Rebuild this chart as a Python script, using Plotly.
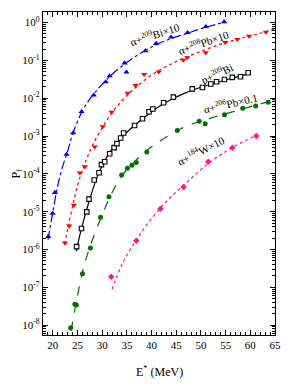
import plotly.graph_objects as go

# ---------------- data ----------------
# alpha + 209Bi x10 (blue up-triangles)
bi_x = [19.07, 19.96, 20.42, 22.78, 24.11, 25.8, 28.28, 30.7, 31.5, 34.53, 34.9, 38.77, 40.92, 43.95, 47.3, 51.0, 54.7]
bi_y = [2.2e-6, 9e-6, 3.2e-5, 3.3e-4, 1.22e-3, 4.4e-3, 1.2e-2, 2.7e-2, 3.9e-2, 8.5e-2, 4.9e-2, 0.18, 0.28, 0.41, 0.54, 0.78, 1.05]
bi_fx = [19.0, 20.0, 21.0, 22.0, 23.0, 24.0, 26.0, 28.0, 30.0, 32.0, 35.0, 38.0, 41.0, 44.0, 47.0, 50.0, 53.0, 55.0]
bi_fy = [1.8e-6, 1.0e-5, 5.0e-5, 1.6e-4, 4.0e-4, 1.12e-3, 4.7e-3, 1.17e-2, 2.34e-2, 4.3e-2, 8.9e-2, 0.162, 0.263, 0.38, 0.51, 0.69, 0.89, 1.05]

# alpha + 208Pb x10 (red down-triangles)
pb8_x = [22.44, 23.3, 24.25, 25.46, 26.47, 28.48, 30.1, 31.91, 35.14, 36.75, 38.5, 41.45, 46.43, 47.23, 50.96, 54.9, 57.37, 59.73, 63.16]
pb8_y = [1.5e-6, 4.2e-6, 1.5e-5, 1.07e-4, 1.55e-4, 5.2e-4, 1.78e-3, 4.3e-3, 1.37e-2, 2.2e-2, 4.3e-2, 5.0e-2, 0.102, 0.119, 0.16, 0.30, 0.36, 0.44, 0.56]
pb8_fx = [22.4, 23.0, 24.0, 25.0, 26.0, 27.0, 28.0, 30.0, 32.0, 34.0, 36.0, 38.0, 40.0, 43.0, 46.0, 50.0, 54.0, 58.0, 62.0, 65.0]
pb8_fy = [1.4e-6, 3.5e-6, 1.4e-5, 5.0e-5, 1.26e-4, 2.8e-4, 5.6e-4, 1.66e-3, 4.2e-3, 8.7e-3, 1.58e-2, 2.6e-2, 4.1e-2, 6.9e-2, 0.107, 0.174, 0.27, 0.38, 0.52, 0.69]

# p + 209Bi (black open squares)
pbi_x = [24.81, 25.8, 26.87, 27.32, 28.37, 29.35, 29.84, 30.5, 31.51, 32.41, 32.98, 33.73, 34.33, 36.55, 38.16, 39.47, 40.24, 42.44, 44.41, 48.23, 50.3, 51.99, 53.16, 54.76, 56.35, 58.0, 59.56]
pbi_y = [1.19e-6, 3.6e-6, 9.9e-6, 2.15e-5, 6.9e-5, 1.07e-4, 1.76e-4, 2.1e-4, 3.4e-4, 4.95e-4, 6.3e-4, 8.9e-4, 1.2e-3, 1.9e-3, 2.86e-3, 4.4e-3, 5.2e-3, 7.6e-3, 1.07e-2, 1.77e-2, 1.92e-2, 2.37e-2, 2.73e-2, 3.12e-2, 3.56e-2, 3.7e-2, 4.7e-2]
pbi_fx = [24.75, 25.5, 26.5, 27.5, 28.5, 29.5, 30.5, 31.5, 32.5, 33.5, 34.5, 36.0, 38.0, 40.0, 42.0, 44.0, 47.0, 50.0, 53.0, 56.0, 59.6]
pbi_fy = [8.9e-7, 2.5e-6, 7.9e-6, 2.2e-5, 5.6e-5, 1.2e-4, 2.24e-4, 3.7e-4, 5.6e-4, 7.9e-4, 1.1e-3, 1.66e-3, 2.75e-3, 4.4e-3, 6.6e-3, 9.3e-3, 1.41e-2, 1.95e-2, 2.57e-2, 3.3e-2, 4.4e-2]

# alpha + 206Pb x0.1 (green filled circles)
pb6_x = [23.6, 24.45, 24.75, 26.0, 27.61, 29.66, 31.36, 33.93, 35.1, 36.01, 36.9, 39.03, 45.2, 49.64, 50.85, 54.77, 58.46, 61.08, 63.63]
pb6_y = [8.6e-9, 3.6e-8, 3.4e-8, 2.3e-7, 1.09e-6, 7.1e-6, 2.5e-5, 9.3e-5, 1.4e-4, 1.7e-4, 2.0e-4, 3.8e-4, 1.4e-3, 2.46e-3, 2.1e-3, 3.66e-3, 5.4e-3, 6.2e-3, 7.8e-3]
pb6_fx = [23.7, 24.5, 25.5, 26.5, 28.0, 30.0, 32.0, 34.0, 36.0, 38.0, 40.0, 43.0, 46.0, 50.0, 54.0, 58.0, 62.0, 65.0]
pb6_fy = [7.1e-9, 2.8e-8, 1.26e-7, 4.5e-7, 1.78e-6, 8.3e-6, 3.2e-5, 8.9e-5, 1.78e-4, 3.2e-4, 5.2e-4, 9.5e-4, 1.58e-3, 2.5e-3, 3.55e-3, 5.0e-3, 7.1e-3, 8.9e-3]

# alpha + 184W x10 (pink diamonds)
w_x = [31.81, 36.89, 41.79, 46.47, 51.47, 56.37, 61.21]
w_y = [1.9e-7, 1.7e-6, 1.2e-5, 4.5e-5, 2.1e-4, 4.9e-4, 1.0e-3]
w_fx = [32.0, 33.0, 34.0, 35.0, 36.9, 39.0, 41.8, 44.0, 46.5, 49.0, 51.5, 54.0, 56.4, 59.0, 61.2]
w_fy = [8.9e-8, 2.0e-7, 4.0e-7, 7.1e-7, 1.78e-6, 4.5e-6, 1.26e-5, 2.5e-5, 5.0e-5, 1.0e-4, 1.9e-4, 3.2e-4, 5.0e-4, 7.6e-4, 1.05e-3]

x_ticks = [20, 25, 30, 35, 40, 45, 50, 55, 60, 65]
y_exps = [0, -1, -2, -3, -4, -5, -6, -7, -8]

FONT = "Liberation Serif"
BLUE, RED, BLACK, GREEN, PINK = "#0000ff", "#ff0000", "#000000", "#007000", "#ff1493"

fig = go.Figure()

def add_series(fx, fy, x, y, color, dash, symbol, size, open_marker=False):
    fig.add_trace(go.Scatter(x=fx, y=fy, mode="lines", line=dict(color=color, width=1.2, dash=dash, shape="spline"),
                             showlegend=False, hoverinfo="skip"))
    if open_marker:
        mk = dict(symbol=symbol, size=size, color="white", line=dict(color=color, width=1.1))
    else:
        mk = dict(symbol=symbol, size=size, color=color, line=dict(width=0))
    fig.add_trace(go.Scatter(x=x, y=y, mode="markers", marker=mk, showlegend=False))

add_series(bi_fx, bi_fy, bi_x, bi_y, BLUE, "dashdot", "triangle-up", 5.5)
add_series(pb8_fx, pb8_fy, pb8_x, pb8_y, RED, "dot", "triangle-down", 5.5)
add_series(pbi_fx, pbi_fy, pbi_x, pbi_y, BLACK, "solid", "square", 4.5, open_marker=True)
add_series(pb6_fx, pb6_fy, pb6_x, pb6_y, GREEN, "dash", "circle", 5)
add_series(w_fx, w_fy, w_x, w_y, PINK, "dot", "diamond", 5)

labels = [
    ("α+<sup>209</sup>Bi×10", 40.6, -0.30, -18),
    ("α+<sup>208</sup>Pb×10", 50.5, -0.50, -19),
    ("p+<sup>209</sup>Bi", 53.3, -1.33, -25),
    ("α+<sup>206</sup>Pb×0.1", 55.9, -2.13, -13),
    ("α+<sup>184</sup>W×10", 50.1, -3.37, -27),
]
for txt, xx, yy, ang in labels:
    fig.add_annotation(x=xx, y=yy, text=txt, showarrow=False, textangle=ang,
                       font=dict(family=FONT, size=11, color="black"))

minor_vals = []
for e in range(-9, 1):
    for k in range(2, 10):
        minor_vals.append(k * 10.0 ** e)

fig.update_xaxes(range=[18, 65], tickmode="array", tickvals=x_ticks, ticktext=[str(v) for v in x_ticks],
                 ticks="inside", ticklen=5, tickwidth=1, tickcolor="black",
                 minor=dict(ticks="inside", ticklen=3, dtick=1, tickcolor="black"),
                 showline=True, linecolor="black", linewidth=1.2, mirror="allticks",
                 showgrid=False, zeroline=False, automargin=False,
                 tickfont=dict(family=FONT, size=11, color="black"))
fig.update_yaxes(type="log", range=[-8.26, 0.28], tickmode="array",
                 tickvals=[10.0 ** e for e in y_exps],
                 ticktext=["10<sup>%d</sup>" % e for e in y_exps],
                 ticks="inside", ticklen=5, tickwidth=1, tickcolor="black",
                 minor=dict(ticks="inside", ticklen=3, tickmode="array", tickvals=minor_vals, tickcolor="black"),
                 showline=True, linecolor="black", linewidth=1.2, mirror="allticks",
                 showgrid=False, zeroline=False, automargin=False,
                 tickfont=dict(family=FONT, size=11, color="black"))

# axis titles
fig.add_annotation(xref="paper", yref="paper", x=-0.116, y=0.5, xanchor="center", yanchor="middle",
                   showarrow=False, textangle=-90,
                   text="P<sub>f</sub>", font=dict(family=FONT, size=12, color="black"))
fig.add_annotation(xref="paper", yref="paper", x=0.5, y=-0.085, yanchor="top", showarrow=False,
                   text="E<sup>*</sup> (MeV)", font=dict(family=FONT, size=12, color="black"))

# page body has an 8px margin, so the figure is shifted; compensate in size/margins
fig.update_layout(width=283, height=372, margin=dict(l=35, r=16, t=4, b=45),
                  plot_bgcolor="white", paper_bgcolor="white",
                  font=dict(family=FONT, color="black"))

fig.write_html("out.html")
